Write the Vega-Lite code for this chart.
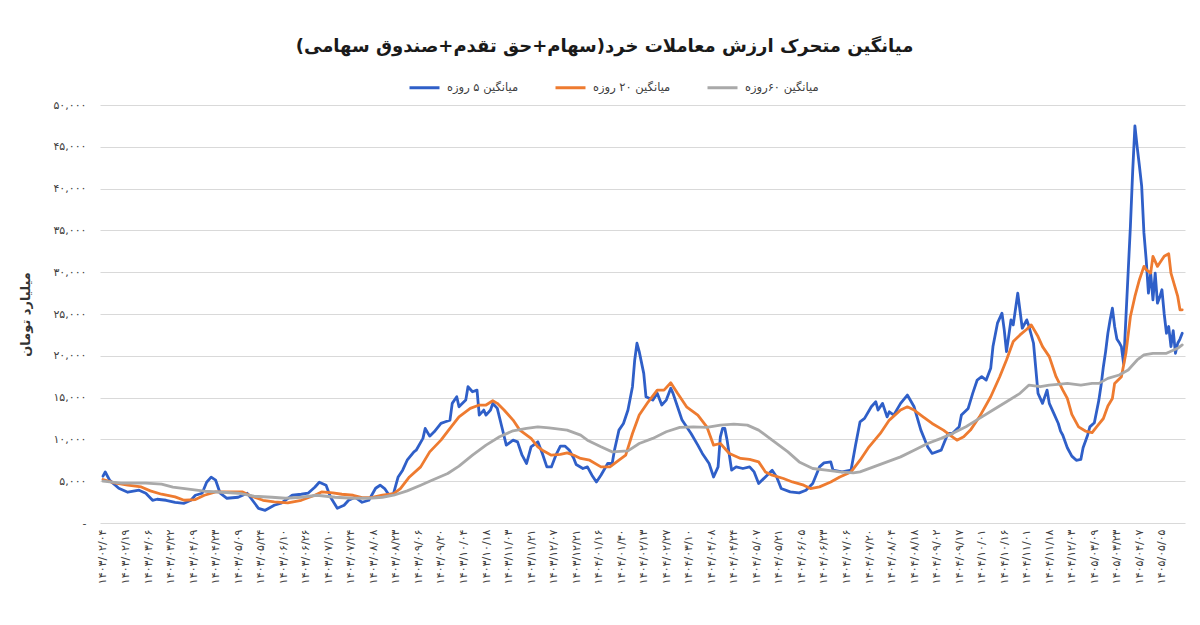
{
  "$schema": "https://vega.github.io/schema/vega-lite/v6.json",
  "autosize": {"type": "none"},
  "width": 1085,
  "height": 418,
  "padding": {"left": 100, "top": 105, "right": 15, "bottom": 102},
  "background": "white",
  "config": {"view": {"stroke": null}, "font": "DejaVu Sans"},
  "title": {
    "text": "\u200fمیانگین متحرک ارزش معاملات خرد(سهام+حق تقدم+صندوق سهامی)\u200f",
    "fontSize": 18,
    "fontWeight": "bold",
    "color": "#1a1a1a",
    "anchor": "middle",
    "frame": "group",
    "dx": -38,
    "offset": 15
  },
  "data": {
    "values": [
      {"s":"a","i":0,"v":5600},{"s":"a","i":1,"v":6100},{"s":"a","i":3,"v":5100},{"s":"a","i":7,"v":4160},{"s":"a","i":11,"v":3680},{"s":"a","i":16,"v":3920},{"s":"a","i":19,"v":3560},{"s":"a","i":22,"v":2720},{"s":"a","i":24,"v":2840},{"s":"a","i":28,"v":2720},{"s":"a","i":32,"v":2480},{"s":"a","i":36,"v":2360},{"s":"a","i":39,"v":2720},{"s":"a","i":41,"v":3320},{"s":"a","i":44,"v":3560},{"s":"a","i":46,"v":4880},{"s":"a","i":48,"v":5480},{"s":"a","i":50,"v":5120},{"s":"a","i":52,"v":3560},{"s":"a","i":55,"v":2960},{"s":"a","i":60,"v":3080},{"s":"a","i":64,"v":3560},{"s":"a","i":67,"v":2480},{"s":"a","i":69,"v":1760},{"s":"a","i":72,"v":1520},{"s":"a","i":76,"v":2120},{"s":"a","i":79,"v":2360},{"s":"a","i":84,"v":3320},{"s":"a","i":88,"v":3440},{"s":"a","i":91,"v":3560},{"s":"a","i":94,"v":4280},{"s":"a","i":96,"v":4880},{"s":"a","i":99,"v":4520},{"s":"a","i":101,"v":3080},{"s":"a","i":104,"v":1760},{"s":"a","i":107,"v":2120},{"s":"a","i":109,"v":2720},{"s":"a","i":112,"v":3080},{"s":"a","i":115,"v":2480},{"s":"a","i":118,"v":2720},{"s":"a","i":121,"v":4160},{"s":"a","i":123,"v":4520},{"s":"a","i":125,"v":4120},{"s":"a","i":127,"v":3320},{"s":"a","i":129,"v":3560},{"s":"a","i":131,"v":5510},{"s":"a","i":133,"v":6320},{"s":"a","i":135,"v":7510},{"s":"a","i":138,"v":8510},{"s":"a","i":139,"v":8710},{"s":"a","i":142,"v":10120},{"s":"a","i":143,"v":11310},{"s":"a","i":145,"v":10390},{"s":"a","i":147,"v":10910},{"s":"a","i":150,"v":11910},{"s":"a","i":152,"v":12110},{"s":"a","i":154,"v":12310},{"s":"a","i":155,"v":14310},{"s":"a","i":157,"v":15100},{"s":"a","i":158,"v":13900},{"s":"a","i":161,"v":14700},{"s":"a","i":162,"v":16300},{"s":"a","i":164,"v":15700},{"s":"a","i":166,"v":15900},{"s":"a","i":167,"v":12900},{"s":"a","i":169,"v":13510},{"s":"a","i":170,"v":12910},{"s":"a","i":172,"v":13510},{"s":"a","i":173,"v":14310},{"s":"a","i":175,"v":13710},{"s":"a","i":177,"v":11510},{"s":"a","i":179,"v":9310},{"s":"a","i":182,"v":9910},{"s":"a","i":184,"v":9710},{"s":"a","i":186,"v":8110},{"s":"a","i":188,"v":7120},{"s":"a","i":190,"v":9110},{"s":"a","i":193,"v":9710},{"s":"a","i":195,"v":8320},{"s":"a","i":197,"v":6710},{"s":"a","i":199,"v":6710},{"s":"a","i":201,"v":8110},{"s":"a","i":203,"v":9190},{"s":"a","i":205,"v":9200},{"s":"a","i":207,"v":8700},{"s":"a","i":209,"v":7700},{"s":"a","i":210,"v":7000},{"s":"a","i":213,"v":6520},{"s":"a","i":215,"v":6710},{"s":"a","i":217,"v":5720},{"s":"a","i":219,"v":4910},{"s":"a","i":221,"v":5720},{"s":"a","i":224,"v":7120},{"s":"a","i":226,"v":7120},{"s":"a","i":227,"v":8710},{"s":"a","i":229,"v":11110},{"s":"a","i":231,"v":11910},{"s":"a","i":233,"v":13510},{"s":"a","i":235,"v":16300},{"s":"a","i":236,"v":19500},{"s":"a","i":237,"v":21500},{"s":"a","i":238,"v":20500},{"s":"a","i":240,"v":17900},{"s":"a","i":241,"v":15100},{"s":"a","i":244,"v":14700},{"s":"a","i":246,"v":15510},{"s":"a","i":248,"v":14110},{"s":"a","i":250,"v":14700},{"s":"a","i":252,"v":16110},{"s":"a","i":253,"v":15510},{"s":"a","i":255,"v":13900},{"s":"a","i":257,"v":12310},{"s":"a","i":261,"v":10710},{"s":"a","i":264,"v":9310},{"s":"a","i":266,"v":8320},{"s":"a","i":269,"v":7120},{"s":"a","i":271,"v":5510},{"s":"a","i":273,"v":6710},{"s":"a","i":274,"v":10310},{"s":"a","i":275,"v":11310},{"s":"a","i":276,"v":11310},{"s":"a","i":277,"v":9910},{"s":"a","i":279,"v":6320},{"s":"a","i":281,"v":6710},{"s":"a","i":284,"v":6520},{"s":"a","i":287,"v":6710},{"s":"a","i":289,"v":6110},{"s":"a","i":291,"v":4720},{"s":"a","i":294,"v":5510},{"s":"a","i":297,"v":6320},{"s":"a","i":299,"v":5510},{"s":"a","i":301,"v":4120},{"s":"a","i":305,"v":3720},{"s":"a","i":309,"v":3600},{"s":"a","i":312,"v":3920},{"s":"a","i":315,"v":4720},{"s":"a","i":318,"v":6710},{"s":"a","i":320,"v":7190},{"s":"a","i":323,"v":7310},{"s":"a","i":324,"v":6320},{"s":"a","i":328,"v":6110},{"s":"a","i":332,"v":6320},{"s":"a","i":334,"v":9310},{"s":"a","i":336,"v":12110},{"s":"a","i":338,"v":12510},{"s":"a","i":341,"v":13900},{"s":"a","i":343,"v":14500},{"s":"a","i":344,"v":13510},{"s":"a","i":346,"v":14310},{"s":"a","i":348,"v":12700},{"s":"a","i":349,"v":13300},{"s":"a","i":351,"v":12910},{"s":"a","i":354,"v":14310},{"s":"a","i":357,"v":15310},{"s":"a","i":360,"v":13900},{"s":"a","i":363,"v":11110},{"s":"a","i":366,"v":9110},{"s":"a","i":368,"v":8320},{"s":"a","i":372,"v":8710},{"s":"a","i":375,"v":10710},{"s":"a","i":377,"v":10710},{"s":"a","i":380,"v":11510},{"s":"a","i":381,"v":12910},{"s":"a","i":384,"v":13710},{"s":"a","i":386,"v":15510},{"s":"a","i":388,"v":17100},{"s":"a","i":390,"v":17500},{"s":"a","i":392,"v":17100},{"s":"a","i":394,"v":18500},{"s":"a","i":395,"v":21100},{"s":"a","i":397,"v":23900},{"s":"a","i":399,"v":25100},{"s":"a","i":400,"v":23100},{"s":"a","i":401,"v":20500},{"s":"a","i":403,"v":24300},{"s":"a","i":404,"v":23700},{"s":"a","i":406,"v":27500},{"s":"a","i":408,"v":23300},{"s":"a","i":410,"v":24300},{"s":"a","i":411,"v":23500},{"s":"a","i":413,"v":21500},{"s":"a","i":415,"v":15510},{"s":"a","i":417,"v":14310},{"s":"a","i":419,"v":15900},{"s":"a","i":420,"v":14310},{"s":"a","i":422,"v":13110},{"s":"a","i":424,"v":11900},{"s":"a","i":425,"v":11000},{"s":"a","i":426,"v":10500},{"s":"a","i":428,"v":9000},{"s":"a","i":430,"v":8000},{"s":"a","i":432,"v":7500},{"s":"a","i":434,"v":7600},{"s":"a","i":435,"v":9000},{"s":"a","i":437,"v":10500},{"s":"a","i":438,"v":11500},{"s":"a","i":440,"v":12000},{"s":"a","i":442,"v":14700},{"s":"a","i":443,"v":16500},{"s":"a","i":444,"v":18700},{"s":"a","i":445,"v":20500},{"s":"a","i":446,"v":22700},{"s":"a","i":447,"v":24300},{"s":"a","i":448,"v":25700},{"s":"a","i":449,"v":23500},{"s":"a","i":450,"v":22000},{"s":"a","i":451,"v":21600},{"s":"a","i":452,"v":21100},{"s":"a","i":453,"v":19000},{"s":"a","i":454,"v":24500},{"s":"a","i":455,"v":30000},{"s":"a","i":456,"v":35500},{"s":"a","i":457,"v":42000},{"s":"a","i":458,"v":47500},{"s":"a","i":459,"v":45000},{"s":"a","i":460,"v":42700},{"s":"a","i":461,"v":40300},{"s":"a","i":462,"v":34700},{"s":"a","i":463,"v":31500},{"s":"a","i":464,"v":27500},{"s":"a","i":465,"v":29900},{"s":"a","i":466,"v":26700},{"s":"a","i":467,"v":29900},{"s":"a","i":468,"v":26300},{"s":"a","i":469,"v":27000},{"s":"a","i":470,"v":27900},{"s":"a","i":471,"v":25000},{"s":"a","i":472,"v":22700},{"s":"a","i":473,"v":23500},{"s":"a","i":474,"v":21100},{"s":"a","i":475,"v":23000},{"s":"a","i":476,"v":20300},{"s":"a","i":477,"v":21500},{"s":"a","i":478,"v":22000},{"s":"a","i":479,"v":22700},
      {"s":"b","i":0,"v":5200},{"s":"b","i":5,"v":4790},{"s":"b","i":11,"v":4520},{"s":"b","i":17,"v":4310},{"s":"b","i":21,"v":3840},{"s":"b","i":26,"v":3440},{"s":"b","i":32,"v":3120},{"s":"b","i":36,"v":2720},{"s":"b","i":41,"v":2800},{"s":"b","i":45,"v":3320},{"s":"b","i":50,"v":3720},{"s":"b","i":55,"v":3720},{"s":"b","i":62,"v":3720},{"s":"b","i":66,"v":3200},{"s":"b","i":71,"v":2720},{"s":"b","i":76,"v":2520},{"s":"b","i":82,"v":2400},{"s":"b","i":88,"v":2720},{"s":"b","i":94,"v":3320},{"s":"b","i":97,"v":3720},{"s":"b","i":102,"v":3600},{"s":"b","i":106,"v":3440},{"s":"b","i":111,"v":3320},{"s":"b","i":115,"v":3040},{"s":"b","i":119,"v":3040},{"s":"b","i":124,"v":3320},{"s":"b","i":129,"v":3520},{"s":"b","i":132,"v":4120},{"s":"b","i":136,"v":5510},{"s":"b","i":141,"v":6710},{"s":"b","i":145,"v":8510},{"s":"b","i":150,"v":9910},{"s":"b","i":154,"v":11310},{"s":"b","i":158,"v":12700},{"s":"b","i":163,"v":13710},{"s":"b","i":167,"v":14110},{"s":"b","i":170,"v":14110},{"s":"b","i":173,"v":14620},{"s":"b","i":175,"v":14310},{"s":"b","i":178,"v":13510},{"s":"b","i":182,"v":12310},{"s":"b","i":185,"v":11110},{"s":"b","i":190,"v":10120},{"s":"b","i":193,"v":9110},{"s":"b","i":195,"v":8710},{"s":"b","i":199,"v":8110},{"s":"b","i":203,"v":8200},{"s":"b","i":206,"v":8390},{"s":"b","i":209,"v":8110},{"s":"b","i":212,"v":7720},{"s":"b","i":216,"v":7510},{"s":"b","i":221,"v":6710},{"s":"b","i":225,"v":6710},{"s":"b","i":229,"v":7510},{"s":"b","i":232,"v":8110},{"s":"b","i":235,"v":10710},{"s":"b","i":238,"v":12910},{"s":"b","i":242,"v":14500},{"s":"b","i":246,"v":15900},{"s":"b","i":249,"v":15900},{"s":"b","i":252,"v":16780},{"s":"b","i":255,"v":15510},{"s":"b","i":259,"v":13900},{"s":"b","i":264,"v":12910},{"s":"b","i":268,"v":11510},{"s":"b","i":271,"v":9310},{"s":"b","i":274,"v":9510},{"s":"b","i":278,"v":8320},{"s":"b","i":283,"v":7720},{"s":"b","i":287,"v":7600},{"s":"b","i":291,"v":7310},{"s":"b","i":294,"v":6110},{"s":"b","i":297,"v":5720},{"s":"b","i":302,"v":5320},{"s":"b","i":306,"v":4910},{"s":"b","i":311,"v":4520},{"s":"b","i":314,"v":4120},{"s":"b","i":318,"v":4320},{"s":"b","i":323,"v":4910},{"s":"b","i":327,"v":5510},{"s":"b","i":332,"v":6110},{"s":"b","i":336,"v":7510},{"s":"b","i":340,"v":9110},{"s":"b","i":345,"v":10710},{"s":"b","i":349,"v":12310},{"s":"b","i":354,"v":13510},{"s":"b","i":357,"v":13900},{"s":"b","i":360,"v":13510},{"s":"b","i":364,"v":12700},{"s":"b","i":368,"v":11910},{"s":"b","i":373,"v":11110},{"s":"b","i":377,"v":10310},{"s":"b","i":379,"v":9910},{"s":"b","i":382,"v":10310},{"s":"b","i":385,"v":11110},{"s":"b","i":389,"v":12700},{"s":"b","i":394,"v":15100},{"s":"b","i":398,"v":17500},{"s":"b","i":401,"v":19500},{"s":"b","i":404,"v":21700},{"s":"b","i":407,"v":22500},{"s":"b","i":410,"v":23180},{"s":"b","i":412,"v":23700},{"s":"b","i":415,"v":22300},{"s":"b","i":417,"v":21100},{"s":"b","i":420,"v":19900},{"s":"b","i":423,"v":17500},{"s":"b","i":426,"v":15900},{"s":"b","i":428,"v":14900},{"s":"b","i":430,"v":13000},{"s":"b","i":433,"v":11500},{"s":"b","i":436,"v":11000},{"s":"b","i":439,"v":10800},{"s":"b","i":441,"v":11500},{"s":"b","i":444,"v":12500},{"s":"b","i":446,"v":14000},{"s":"b","i":448,"v":14900},{"s":"b","i":449,"v":16700},{"s":"b","i":452,"v":17500},{"s":"b","i":454,"v":20300},{"s":"b","i":456,"v":24700},{"s":"b","i":458,"v":27100},{"s":"b","i":460,"v":29100},{"s":"b","i":462,"v":30700},{"s":"b","i":463,"v":30300},{"s":"b","i":465,"v":29900},{"s":"b","i":466,"v":31900},{"s":"b","i":468,"v":30700},{"s":"b","i":469,"v":31100},{"s":"b","i":471,"v":31900},{"s":"b","i":473,"v":32200},{"s":"b","i":474,"v":29900},{"s":"b","i":477,"v":27100},{"s":"b","i":478,"v":25500},{"s":"b","i":479,"v":25500},
      {"s":"c","i":0,"v":5000},{"s":"c","i":8,"v":4760},{"s":"c","i":19,"v":4760},{"s":"c","i":26,"v":4640},{"s":"c","i":31,"v":4280},{"s":"c","i":38,"v":4040},{"s":"c","i":45,"v":3800},{"s":"c","i":53,"v":3680},{"s":"c","i":60,"v":3560},{"s":"c","i":67,"v":3200},{"s":"c","i":75,"v":3080},{"s":"c","i":81,"v":2960},{"s":"c","i":88,"v":3080},{"s":"c","i":95,"v":3320},{"s":"c","i":103,"v":3080},{"s":"c","i":111,"v":2960},{"s":"c","i":118,"v":2960},{"s":"c","i":124,"v":3080},{"s":"c","i":129,"v":3320},{"s":"c","i":135,"v":3840},{"s":"c","i":141,"v":4520},{"s":"c","i":146,"v":5120},{"s":"c","i":153,"v":5920},{"s":"c","i":158,"v":6800},{"s":"c","i":164,"v":8110},{"s":"c","i":170,"v":9310},{"s":"c","i":176,"v":10310},{"s":"c","i":182,"v":11030},{"s":"c","i":188,"v":11310},{"s":"c","i":193,"v":11510},{"s":"c","i":198,"v":11390},{"s":"c","i":206,"v":11110},{"s":"c","i":212,"v":10510},{"s":"c","i":215,"v":9910},{"s":"c","i":221,"v":9110},{"s":"c","i":226,"v":8510},{"s":"c","i":233,"v":8630},{"s":"c","i":238,"v":9510},{"s":"c","i":244,"v":10120},{"s":"c","i":250,"v":10910},{"s":"c","i":256,"v":11430},{"s":"c","i":262,"v":11510},{"s":"c","i":268,"v":11430},{"s":"c","i":274,"v":11710},{"s":"c","i":280,"v":11830},{"s":"c","i":286,"v":11710},{"s":"c","i":291,"v":11110},{"s":"c","i":297,"v":9910},{"s":"c","i":304,"v":8510},{"s":"c","i":309,"v":7310},{"s":"c","i":315,"v":6520},{"s":"c","i":321,"v":6320},{"s":"c","i":327,"v":6110},{"s":"c","i":333,"v":5990},{"s":"c","i":336,"v":6110},{"s":"c","i":342,"v":6710},{"s":"c","i":348,"v":7310},{"s":"c","i":354,"v":7910},{"s":"c","i":360,"v":8710},{"s":"c","i":366,"v":9510},{"s":"c","i":372,"v":10120},{"s":"c","i":377,"v":10710},{"s":"c","i":383,"v":11510},{"s":"c","i":389,"v":12510},{"s":"c","i":395,"v":13510},{"s":"c","i":401,"v":14500},{"s":"c","i":407,"v":15510},{"s":"c","i":411,"v":16500},{"s":"c","i":416,"v":16300},{"s":"c","i":420,"v":16500},{"s":"c","i":425,"v":16620},{"s":"c","i":428,"v":16700},{"s":"c","i":434,"v":16500},{"s":"c","i":439,"v":16700},{"s":"c","i":442,"v":16700},{"s":"c","i":446,"v":17300},{"s":"c","i":451,"v":17700},{"s":"c","i":455,"v":18300},{"s":"c","i":459,"v":19500},{"s":"c","i":462,"v":20100},{"s":"c","i":466,"v":20300},{"s":"c","i":472,"v":20300},{"s":"c","i":477,"v":20900},{"s":"c","i":479,"v":21300}
    ]
  },
  "mark": {"type": "line", "strokeWidth": 2.8, "strokeJoin": "round", "strokeCap": "round"},
  "encoding": {
    "x": {
      "field": "i",
      "type": "quantitative",
      "scale": {"domain": [-1.33, 480.23], "nice": false, "zero": false},
      "axis": {
        "title": null,
        "grid": false,
        "ticks": false,
        "domain": false,
        "values": [0,10,20,30,40,50,60,70,80,90,100,110,120,130,140,150,160,170,180,190,200,210,220,230,240,250,260,270,280,290,300,310,320,330,340,350,360,370,380,390,400,410,420,430,440,450,460,470],
        "labelAngle": -90,
        "labelAlign": "right",
        "labelBaseline": "middle",
        "labelPadding": 6,
        "labelFontSize": 11,
        "labelColor": "#404040",
        "labelOverlap": false,
        "labelFlush": false,
        "labelExpr": "['۱۴۰۳/۰۲/۰۴','۱۴۰۳/۰۲/۱۹','۱۴۰۳/۰۳/۰۶','۱۴۰۳/۰۳/۲۲','۱۴۰۳/۰۴/۰۹','۱۴۰۳/۰۴/۲۳','۱۴۰۳/۰۵/۰۹','۱۴۰۳/۰۵/۲۴','۱۴۰۳/۰۶/۱۰','۱۴۰۳/۰۶/۲۶','۱۴۰۳/۰۷/۱۰','۱۴۰۳/۰۷/۲۴','۱۴۰۳/۰۸/۰۸','۱۴۰۳/۰۸/۲۳','۱۴۰۳/۰۹/۰۶','۱۴۰۳/۰۹/۲۰','۱۴۰۳/۱۰/۰۴','۱۴۰۳/۱۰/۱۸','۱۴۰۳/۱۱/۰۳','۱۴۰۳/۱۱/۲۱','۱۴۰۳/۱۲/۰۷','۱۴۰۳/۱۲/۲۱','۱۴۰۴/۰۱/۱۶','۱۴۰۴/۰۱/۳۰','۱۴۰۴/۰۲/۱۳','۱۴۰۴/۰۲/۲۷','۱۴۰۴/۰۳/۱۰','۱۴۰۴/۰۴/۰۸','۱۴۰۴/۰۴/۲۴','۱۴۰۴/۰۵/۰۷','۱۴۰۴/۰۵/۲۱','۱۴۰۴/۰۶/۰۵','۱۴۰۴/۰۶/۲۳','۱۴۰۴/۰۷/۰۶','۱۴۰۴/۰۷/۲۰','۱۴۰۴/۰۸/۰۴','۱۴۰۴/۰۸/۱۸','۱۴۰۴/۰۹/۰۲','۱۴۰۴/۰۹/۱۷','۱۴۰۴/۱۰/۰۱','۱۴۰۴/۱۰/۱۶','۱۴۰۴/۱۱/۰۱','۱۴۰۴/۱۱/۱۸','۱۴۰۴/۱۲/۰۳','۱۴۰۵/۰۳/۰۹','۱۴۰۵/۰۳/۲۳','۱۴۰۵/۰۴/۰۷','۱۴۰۵/۰۵/۰۵'][round(datum.value/10)]"
      }
    },
    "y": {
      "field": "v",
      "type": "quantitative",
      "scale": {"domain": [0, 50000], "nice": false},
      "axis": {
        "title": "میلیارد تومان",
        "titleFontSize": 13,
        "titleFontWeight": "bold",
        "titleColor": "#333333",
        "titlePadding": 20,
        "values": [0,5000,10000,15000,20000,25000,30000,35000,40000,45000,50000],
        "grid": true,
        "gridColor": "#d9d9d9",
        "gridWidth": 1,
        "domain": false,
        "ticks": false,
        "labelPadding": 14,
        "labelFontSize": 11,
        "labelColor": "#404040",
        "labelExpr": "['-','۵,۰۰۰','۱۰,۰۰۰','۱۵,۰۰۰','۲۰,۰۰۰','۲۵,۰۰۰','۳۰,۰۰۰','۳۵,۰۰۰','۴۰,۰۰۰','۴۵,۰۰۰','۵۰,۰۰۰'][round(datum.value/5000)]"
      }
    },
    "color": {
      "field": "s",
      "type": "nominal",
      "scale": {"domain": ["a", "b", "c"], "range": ["#2f5fc8", "#ee7b30", "#a9a9a9"]},
      "legend": {
        "title": null,
        "orient": "none",
        "direction": "horizontal",
        "legendX": 308,
        "legendY": -34,
        "symbolType": "stroke",
        "symbolSize": 900,
        "symbolStrokeWidth": 3,
        "labelFontSize": 11.5,
        "labelColor": "#404040",
        "labelOffset": 6,
        "columnPadding": 30,
        "labelExpr": "datum.value == 'a' ? 'میانگین ۵ روزه' : datum.value == 'b' ? 'میانگین ۲۰ روزه' : 'میانگین ۶۰روزه'"
      }
    }
  }
}
